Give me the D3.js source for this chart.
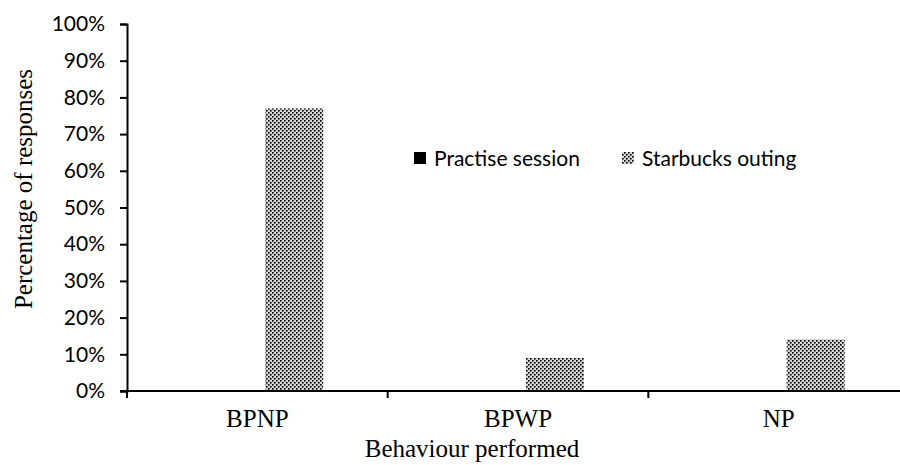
<!DOCTYPE html>
<html>
<head>
<meta charset="utf-8">
<script src="https://cdn.jsdelivr.net/npm/d3@7"></script>
<style>
  html, body { margin: 0; padding: 0; background: #fff; }
  svg { display: block; }
</style>
</head>
<body>
<svg id="chart" width="900" height="465"></svg>
<script>
// Share of responses per behaviour, for each session type
const categories = ["BPNP", "BPWP", "NP"];
const seriesNames = ["Practise session", "Starbucks outing"];
const practiseValues = [0, 0, 0];
const starbucksValues = [77, 9, 14];
const yTicks = [0, 10, 20, 30, 40, 50, 60, 70, 80, 90, 100];

const svg = d3.select("#chart");
const margin = { left: 127, top: 24, right: -9, bottom: 74 };
const W = 900, H = 465;

const x = d3.scaleBand().domain(categories).range([margin.left, W - margin.right]).padding(0);
const y = d3.scaleLinear().domain([0, 100]).range([H - margin.bottom, margin.top]);

// Dotted fill for the Starbucks series
const defs = svg.append("defs");
const pat = defs.append("pattern")
  .attr("id", "dots").attr("patternUnits", "userSpaceOnUse")
  .attr("width", 4).attr("height", 4);
pat.append("rect").attr("width", 4).attr("height", 4).attr("fill", "#d4d4d4");
pat.append("rect").attr("x", 0).attr("y", 0).attr("width", 1.6).attr("height", 1.6).attr("fill", "#000");
pat.append("rect").attr("x", 2).attr("y", 2).attr("width", 1.6).attr("height", 1.6).attr("fill", "#000");

const tickFont = "Lato, 'Open Sans', sans-serif";
const serif = "'Liberation Serif', 'Times New Roman', serif";
const tickSize = 21;
const serifSize = 25;

// Bars: both series within each band
const barW = 58;
const offsets = [-66, 8];
const series = [
  { name: seriesNames[0], values: practiseValues, fill: "#000" },
  { name: seriesNames[1], values: starbucksValues, fill: "url(#dots)" }
];
series.forEach((s, si) => {
  svg.append("g").selectAll("rect")
    .data(categories.map((c, i) => ({ c, v: s.values[i] })))
    .join("rect")
    .attr("x", d => x(d.c) + x.bandwidth() / 2 + offsets[si])
    .attr("y", d => y(d.v))
    .attr("width", barW)
    .attr("height", d => y(0) - y(d.v))
    .attr("fill", s.fill);
});

// Y axis
const yAxis = svg.append("g")
  .attr("transform", `translate(${margin.left},0)`)
  .call(d3.axisLeft(y).tickValues(yTicks).tickFormat(d => d + "%").tickSize(7).tickPadding(15));
yAxis.select(".domain").attr("stroke", "#000").attr("stroke-width", 2);
yAxis.selectAll(".tick line").attr("stroke", "#000").attr("stroke-width", 2);
yAxis.selectAll("text").attr("font-family", tickFont).attr("font-size", tickSize).attr("fill", "#000");

// X axis: category boundaries carry the tick marks
const xAxisG = svg.append("g").attr("transform", `translate(0,${y(0)})`);
xAxisG.append("line")
  .attr("x1", margin.left - 7).attr("x2", W - margin.right)
  .attr("stroke", "#000").attr("stroke-width", 2);
const bounds = categories.map(c => x(c)).concat([x(categories[categories.length - 1]) + x.bandwidth()]);
xAxisG.selectAll("line.b").data(bounds).join("line").attr("class", "b")
  .attr("x1", d => d).attr("x2", d => d).attr("y1", 0).attr("y2", 7)
  .attr("stroke", "#000").attr("stroke-width", 2);
xAxisG.selectAll("text").data(categories).join("text")
  .attr("x", d => x(d) + x.bandwidth() / 2).attr("y", 36)
  .attr("text-anchor", "middle")
  .attr("font-family", serif).attr("font-size", serifSize).attr("fill", "#000")
  .text(d => d);

// Axis titles
svg.append("text")
  .attr("x", 472).attr("y", 457).attr("text-anchor", "middle")
  .attr("font-family", serif).attr("font-size", 25).attr("fill", "#000")
  .text("Behaviour performed");
svg.append("text")
  .attr("transform", "translate(32,189) rotate(-90)").attr("text-anchor", "middle")
  .attr("font-family", serif).attr("font-size", serifSize).attr("fill", "#000")
  .text("Percentage of responses");

// Legend
const legend = svg.append("g");
const legendX = [414, 622];
series.forEach((s, i) => {
  legend.append("rect").attr("x", legendX[i]).attr("y", 152).attr("width", 12).attr("height", 12)
    .attr("fill", s.fill);
  legend.append("text").attr("x", legendX[i] + 20).attr("y", 166)
    .attr("font-family", tickFont).attr("font-size", tickSize).attr("fill", "#000")
    .text(s.name);
});
</script>
</body>
</html>
